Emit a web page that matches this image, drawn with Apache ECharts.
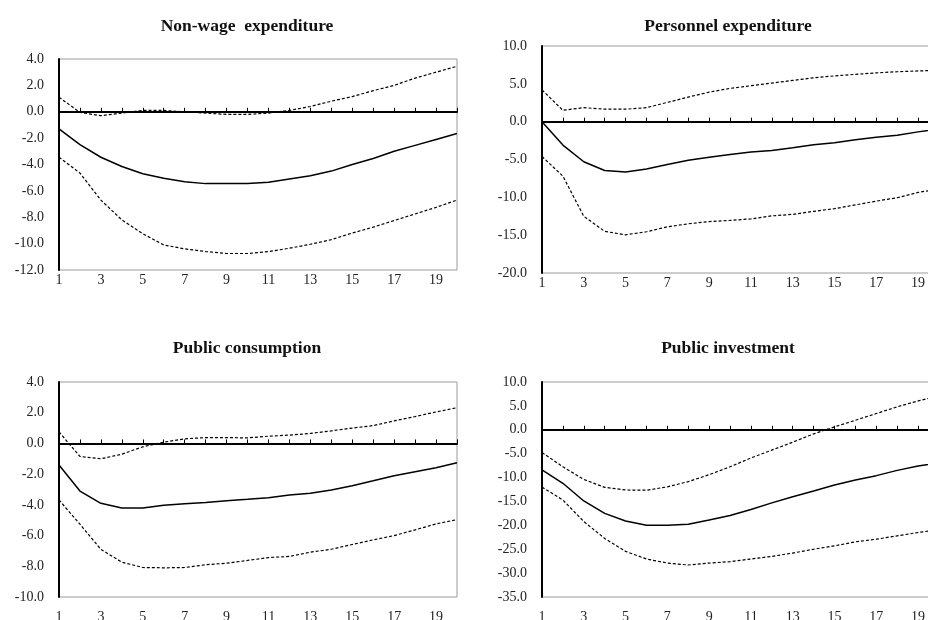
<!DOCTYPE html>
<html>
<head>
<meta charset="utf-8">
<script src="https://cdn.jsdelivr.net/npm/echarts@6/dist/echarts.min.js"></script>
<style>html,body{margin:0;padding:0;background:#fff;}#c{width:928px;height:620px;}</style>
</head>
<body>
<div id="c"></div>
<script>
const periods = ['1','2','3','4','5','6','7','8','9','10','11','12','13','14','15','16','17','18','19','20'];

const titles = ['Non-wage  expenditure', 'Personnel expenditure', 'Public consumption', 'Public investment'];

const nonwageMid   = [-1.3,-2.5,-3.45,-4.15,-4.7,-5.05,-5.3,-5.45,-5.45,-5.45,-5.35,-5.1,-4.85,-4.5,-4.0,-3.55,-3.0,-2.55,-2.1,-1.65];
const nonwageUpper = [1.1,-0.05,-0.3,-0.1,0.1,0.1,0.0,-0.1,-0.2,-0.2,-0.1,0.1,0.4,0.8,1.15,1.6,2.0,2.55,3.0,3.45];
const nonwageLower = [-3.45,-4.65,-6.7,-8.2,-9.25,-10.1,-10.4,-10.6,-10.75,-10.75,-10.6,-10.35,-10.05,-9.7,-9.2,-8.75,-8.25,-7.75,-7.25,-6.7];

const personnelMid   = [0.0,-3.1,-5.3,-6.45,-6.65,-6.25,-5.65,-5.1,-4.7,-4.35,-4.0,-3.8,-3.45,-3.05,-2.8,-2.4,-2.05,-1.8,-1.35,-0.95];
const personnelUpper = [4.2,1.5,1.85,1.65,1.65,1.85,2.55,3.25,3.9,4.4,4.75,5.1,5.45,5.8,6.05,6.25,6.45,6.6,6.7,6.8];
const personnelLower = [-4.6,-7.2,-12.5,-14.5,-14.95,-14.55,-13.9,-13.5,-13.2,-13.05,-12.85,-12.45,-12.25,-11.85,-11.5,-11.0,-10.5,-10.05,-9.35,-8.9];

const consumptionMid   = [-1.4,-3.1,-3.9,-4.2,-4.2,-4.03,-3.92,-3.84,-3.73,-3.64,-3.53,-3.36,-3.25,-3.03,-2.75,-2.43,-2.1,-1.84,-1.58,-1.26];
const consumptionUpper = [0.75,-0.85,-1.0,-0.7,-0.22,0.08,0.3,0.38,0.38,0.36,0.47,0.54,0.65,0.82,1.0,1.16,1.47,1.75,2.05,2.33];
const consumptionLower = [-3.68,-5.26,-6.9,-7.73,-8.08,-8.1,-8.08,-7.9,-7.8,-7.62,-7.43,-7.36,-7.08,-6.89,-6.58,-6.28,-6.0,-5.63,-5.24,-4.96];

const investmentMid   = [-8.4,-11.2,-14.9,-17.5,-19.1,-20.0,-20.0,-19.75,-18.9,-17.95,-16.7,-15.3,-14.0,-12.8,-11.55,-10.5,-9.6,-8.5,-7.6,-6.9];
const investmentUpper = [-4.75,-7.75,-10.4,-12.05,-12.6,-12.65,-11.95,-10.85,-9.4,-7.75,-5.9,-4.25,-2.6,-0.85,0.6,2.0,3.4,4.8,6.05,7.1];
const investmentLower = [-12.0,-14.7,-19.2,-22.75,-25.45,-27.05,-27.9,-28.3,-27.9,-27.6,-27.05,-26.5,-25.8,-25.0,-24.3,-23.45,-22.9,-22.2,-21.5,-20.9];

const panels = [
  {mid: nonwageMid, up: nonwageUpper, lo: nonwageLower, min: -12, max: 4, interval: 2},
  {mid: personnelMid, up: personnelUpper, lo: personnelLower, min: -20, max: 10, interval: 5},
  {mid: consumptionMid, up: consumptionUpper, lo: consumptionLower, min: -10, max: 4, interval: 2},
  {mid: investmentMid, up: investmentUpper, lo: investmentLower, min: -35, max: 10, interval: 5}
];

const gridBoxes = [
  {left: 59, top: 59, width: 398, height: 211},
  {left: 542, top: 46, width: 397, height: 227},
  {left: 59, top: 382, width: 398, height: 215},
  {left: 542, top: 382, width: 397, height: 215}
];
const labelMargins = [3, 3, 13, 13];
const titlePos = [
  {left: 242, top: 12},
  {left: 723, top: 12},
  {left: 242, top: 334},
  {left: 723, top: 334}
];

const FONT = '"Liberation Serif", "Times New Roman", serif';

const option = {
  backgroundColor: '#fff',
  animation: false,
  title: titles.map((t, i) => ({
    text: t,
    left: titlePos[i].left,
    top: titlePos[i].top,
    textAlign: 'center',
    textStyle: {fontFamily: FONT, fontSize: 17.5, fontWeight: 'bold', color: '#111'}
  })),
  grid: gridBoxes.map(g => Object.assign({show: true, borderColor: '#9a9a9a', borderWidth: 1,
    backgroundColor: 'transparent', containLabel: false, outerBoundsMode: 'none'}, g)),
  xAxis: [],
  yAxis: [],
  series: []
};

panels.forEach((p, i) => {
  option.xAxis.push({
    type: 'category', gridIndex: i, data: periods, boundaryGap: false,
    axisLine: {show: false, onZero: false},
    axisTick: {show: false},
    splitLine: {show: false},
    axisLabel: {interval: 1, fontFamily: FONT, fontSize: 14, color: '#222', margin: labelMargins[i]}
  });
  option.xAxis.push({
    type: 'category', gridIndex: i, data: periods, boundaryGap: false,
    position: 'bottom',
    axisLine: {show: true, onZero: true, lineStyle: {color: '#000', width: 2}},
    axisTick: {show: true, inside: true, length: 4, interval: 0, lineStyle: {color: '#000', width: 1}},
    axisLabel: {show: false},
    splitLine: {show: false}
  });
  option.yAxis.push({
    type: 'value', gridIndex: i, min: p.min, max: p.max, interval: p.interval,
    axisLine: {show: true, lineStyle: {color: '#000', width: 2}},
    axisTick: {show: false},
    splitLine: {show: false},
    axisLabel: {fontFamily: FONT, fontSize: 14, color: '#222', margin: 15,
      formatter: v => v.toFixed(1)}
  });
  const mk = (data, dashed, w) => ({
    type: 'line', xAxisIndex: i * 2 + 1, yAxisIndex: i, data: data,
    symbol: 'none', smooth: false, silent: true,
    lineStyle: {color: '#000', width: w, type: dashed ? [3, 2] : 'solid'},
    z: 3
  });
  option.series.push(mk(p.up, true, 1.2));
  option.series.push(mk(p.mid, false, 1.5));
  option.series.push(mk(p.lo, true, 1.2));
});

const chart = echarts.init(document.getElementById('c'), null, {renderer: 'canvas'});
chart.setOption(option);
</script>
</body>
</html>
